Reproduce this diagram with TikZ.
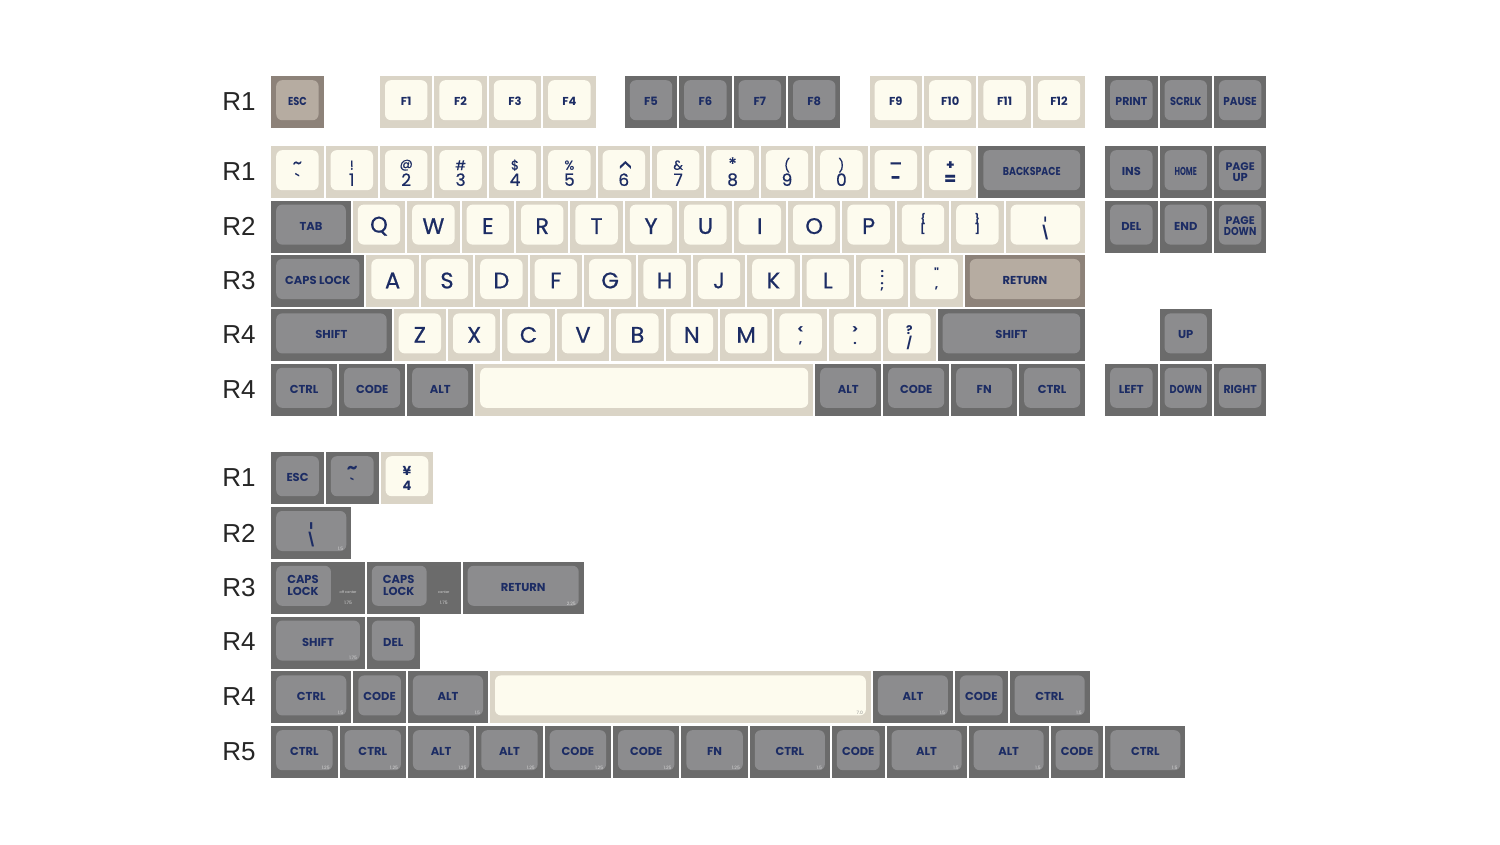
\documentclass[tikz,border=0pt]{standalone}
\usepackage{fontspec}
\usepackage{graphicx}
\newfontfamily\kf{Poppins}
\newfontfamily\kfl[FakeBold=0.6]{Poppins}
\newfontfamily\lf{Liberation Sans}
\usetikzlibrary{calc}
\definecolor{bOut}{HTML}{DAD4C6}
\definecolor{bIn}{HTML}{FDFBEE}
\definecolor{gOut}{HTML}{6B6B6B}
\definecolor{gIn}{HTML}{8C8C8E}
\definecolor{rOut}{HTML}{8D8279}
\definecolor{rIn}{HTML}{B6ACA1}
\definecolor{legend}{HTML}{1C2C64}
\definecolor{sizetxt}{HTML}{D6D6D6}
\tikzset{
  keycap/.style n args={3}{draw=none, fill=#1, rectangle, inner sep=0pt, anchor=north west,
    minimum height=52pt,
    path picture={\fill[#2, rounded corners=6pt]
      ([xshift=5pt,yshift=-4pt]path picture bounding box.north west) rectangle
      ([xshift=-#3,yshift=8pt]path picture bounding box.south east);}},
  beige/.style={keycap={bOut}{bIn}{5pt}},
  grey/.style={keycap={gOut}{gIn}{5pt}},
  brown/.style={keycap={rOut}{rIn}{5pt}},
  greyoff/.style={keycap={gOut}{gIn}{34pt}},
  lg/.style={text=legend, font=\kf\bfseries\fontsize{11.5}{11}\selectfont, inner sep=0pt, align=center},
  big/.style={text=legend, font=\kfl\fontsize{22.5}{23}\selectfont, inner sep=0pt},
  tl/.style={text=legend, font=\kfl\fontsize{13}{13}\selectfont, inner sep=0pt},
  bl/.style={text=legend, font=\kfl\fontsize{17}{17}\selectfont, inner sep=0pt},
  sz/.style={text=sizetxt, font=\kf\fontsize{4.5}{5}\selectfont, inner sep=0pt},
  rowlbl/.style={text=black!85, font=\lf\fontsize{26}{26}\selectfont, inner sep=0pt},
}
\def\U{54.4}
\def\tup{7}
\def\tdn{-7.5}
\newcommand\KS[6]{\node[#5, minimum width={#4*\U-2}] (#1) at ({271+#2*\U},#3) {};
  \node[lg] (#1t) at ([yshift=0.5pt]#1.center) {#6};}
\newcommand\KL[4]{\node[beige, minimum width={\U-2}] (#1) at ({271+#2*\U},#3) {};
  \node[big] (#1t) at ([yshift=0.5pt]#1.center) {#4};}
\newcommand\KD[7]{\node[#5, minimum width={#4*\U-2}] (#1) at ({271+#2*\U},#3) {};
  \node[tl] (#1a) at ([yshift=\tup pt]#1.center) {#6};
  \node[bl] (#1b) at ([yshift=\tdn pt]#1.center) {#7};}
\newcommand\SZ[2]{\node[sz, anchor=east] (#1s) at ([xshift=-8pt,yshift=10.5pt]#1.south east) {#2};}
\newcommand\sq[2]{\scalebox{#1}[1]{#2}}
\newcommand\pipe{\scalebox{1}[0.55]{|}}
\begin{document}
\begin{tikzpicture}[x=1pt,y=-1pt]
\fill[white] (0,0) rectangle (1500,845);
\useasboundingbox (0,0) rectangle (1500,845);
% row labels
\node[rowlbl] (la) at (239,102) {R1};
\node[rowlbl] (lb) at (239,172) {R1};
\node[rowlbl] (lc) at (239,226) {R2};
\node[rowlbl] (ld) at (239,281) {R3};
\node[rowlbl] (le) at (239,335) {R4};
\node[rowlbl] (lf) at (239,390) {R4};
\node[rowlbl] (lg1) at (239,478) {R1};
\node[rowlbl] (lg2) at (239,533) {R2};
\node[rowlbl] (lg3) at (239,588) {R3};
\node[rowlbl] (lg4) at (239,642) {R4};
\node[rowlbl] (lg5) at (239,697) {R4};
\node[rowlbl] (lg6) at (239,752) {R5};
% ---------- top section ----------
% F row
\KS{esc}{0}{76}{1}{brown}{\sq{0.85}{ESC}}
\KS{fa}{2}{76}{1}{beige}{F1}
\KS{fb}{3}{76}{1}{beige}{F2}
\KS{fc}{4}{76}{1}{beige}{F3}
\KS{fd}{5}{76}{1}{beige}{F4}
\KS{fe}{6.5}{76}{1}{grey}{F5}
\KS{ff}{7.5}{76}{1}{grey}{F6}
\KS{fg}{8.5}{76}{1}{grey}{F7}
\KS{fh}{9.5}{76}{1}{grey}{F8}
\KS{fi}{11}{76}{1}{beige}{F9}
\KS{fj}{12}{76}{1}{beige}{F10}
\KS{fk}{13}{76}{1}{beige}{F11}
\KS{fl}{14}{76}{1}{beige}{F12}
\KS{prt}{15.33}{76}{1}{grey}{\sq{0.95}{PRINT}}
\KS{scr}{16.33}{76}{1}{grey}{\sq{0.85}{SCRLK}}
\KS{pau}{17.33}{76}{1}{grey}{\sq{0.9}{PAUSE}}
% number row
\KD{na}{0}{146}{1}{beige}{\scalebox{1.4}{\textasciitilde}}{\textasciigrave}
\KD{nb}{1}{146}{1}{beige}{!}{1}
\KD{nc}{2}{146}{1}{beige}{@}{2}
\KD{nd}{3}{146}{1}{beige}{\#}{3}
\KD{ne}{4}{146}{1}{beige}{\$}{4}
\KD{nf}{5}{146}{1}{beige}{\%}{5}
\KD{ng}{6}{146}{1}{beige}{\scalebox{1.8}[1.6]{\rotatebox{-90}{<}}}{6}
\KD{nh}{7}{146}{1}{beige}{\&}{7}
\def\tup{8.5}
\KD{ni}{8}{146}{1}{beige}{\scalebox{1.3}{*}}{8}
\def\tup{7}
\KD{nj}{9}{146}{1}{beige}{(}{9}
\KD{nk}{10}{146}{1}{beige}{)}{0}
\KD{nl}{11}{146}{1}{beige}{\textbf{—}}{\textbf{-}}
\KD{nm}{12}{146}{1}{beige}{\textbf{+}}{\textbf{=}}
\KS{bks}{13}{146}{2}{grey}{\sq{0.82}{BACKSPACE}}
\KS{ins}{15.33}{146}{1}{grey}{INS}
\KS{hom}{16.33}{146}{1}{grey}{\sq{0.65}{HOME}}
\KS{pgu}{17.33}{146}{1}{grey}{\fontsize{11}{10}\selectfont PAGE\\UP}
% Q row
\KS{tab}{0}{200.4}{1.5}{grey}{TAB}
\KL{kq}{1.5}{200.4}{Q}
\KL{kw}{2.5}{200.4}{W}
\KL{ke}{3.5}{200.4}{E}
\KL{kr}{4.5}{200.4}{R}
\KL{kt}{5.5}{200.4}{T}
\KL{ky}{6.5}{200.4}{Y}
\KL{ku}{7.5}{200.4}{U}
\KL{ki}{8.5}{200.4}{I}
\KL{ko}{9.5}{200.4}{O}
\KL{kp}{10.5}{200.4}{P}
\tikzset{tl/.append style={font=\kf\bfseries\fontsize{10}{10}\selectfont},
         bl/.append style={font=\kf\bfseries\fontsize{10}{10}\selectfont}}
\def\tup{8}\def\tdn{-2}
\KD{lbr}{11.5}{200.4}{1}{beige}{\{}{[}
\KD{rbr}{12.5}{200.4}{1}{beige}{\}}{]}
\tikzset{bl/.append style={font=\kf\bfseries\fontsize{13}{13}\selectfont}}
\def\tup{7}\def\tdn{-5.5}
\KD{bsl}{13.5}{200.4}{1.5}{beige}{\pipe}{\textbackslash}
\KS{del}{15.33}{200.4}{1}{grey}{DEL}
\KS{end}{16.33}{200.4}{1}{grey}{END}
\KS{pgd}{17.33}{200.4}{1}{grey}{\fontsize{11}{10}\selectfont PAGE\\\sq{0.85}{DOWN}}
% A row
\KS{cap}{0}{254.8}{1.75}{grey}{CAPS LOCK}
\KL{ka}{1.75}{254.8}{A}
\KL{ks}{2.75}{254.8}{S}
\KL{kd}{3.75}{254.8}{D}
\KL{kf}{4.75}{254.8}{F}
\KL{kg}{5.75}{254.8}{G}
\KL{kh}{6.75}{254.8}{H}
\KL{kj}{7.75}{254.8}{J}
\KL{kk}{8.75}{254.8}{K}
\KL{kl}{9.75}{254.8}{L}
\tikzset{tl/.append style={font=\kf\bfseries\fontsize{12}{12}\selectfont},
         bl/.append style={font=\kf\bfseries\fontsize{12}{12}\selectfont}}
\def\tup{7}\def\tdn{-6}
\KD{scl}{10.75}{254.8}{1}{beige}{:}{;}
\def\tup{8.5}\def\tdn{-7}
\KD{quo}{11.75}{254.8}{1}{beige}{"}{,}
\KS{ret}{12.75}{254.8}{2.25}{brown}{RETURN}
% Z row
\KS{lsh}{0}{309.2}{2.25}{grey}{SHIFT}
\KL{kz}{2.25}{309.2}{Z}
\KL{kx}{3.25}{309.2}{X}
\KL{kc}{4.25}{309.2}{C}
\KL{kv}{5.25}{309.2}{V}
\KL{kb}{6.25}{309.2}{B}
\KL{kn}{7.25}{309.2}{N}
\KL{km}{8.25}{309.2}{M}
\def\tup{5}\def\tdn{-8}
\KD{lt}{9.25}{309.2}{1}{beige}{<}{,}
\KD{gt}{10.25}{309.2}{1}{beige}{>}{.}
\KD{qm}{11.25}{309.2}{1}{beige}{?}{/}
\KS{rsh}{12.25}{309.2}{2.75}{grey}{SHIFT}
\KS{up}{16.33}{309.2}{1}{grey}{UP}
% bottom row
\KS{lct}{0}{363.6}{1.25}{grey}{CTRL}
\KS{lcd}{1.25}{363.6}{1.25}{grey}{CODE}
\KS{lal}{2.5}{363.6}{1.25}{grey}{ALT}
\node[beige, minimum width={6.25*\U-2}] (spc) at ({271+3.75*\U},363.6) {};
\KS{ral}{10}{363.6}{1.25}{grey}{ALT}
\KS{rcd}{11.25}{363.6}{1.25}{grey}{CODE}
\KS{rfn}{12.5}{363.6}{1.25}{grey}{FN}
\KS{rct}{13.75}{363.6}{1.25}{grey}{CTRL}
\KS{lft}{15.33}{363.6}{1}{grey}{LEFT}
\KS{dwn}{16.33}{363.6}{1}{grey}{\sq{0.84}{DOWN}}
\KS{rgt}{17.33}{363.6}{1}{grey}{\sq{0.95}{RIGHT}}
% ---------- bottom section ----------
\def\U{54.7}
\KS{xesc}{0}{452}{1}{grey}{ESC}
\tikzset{tl/.append style={font=\kf\bfseries\fontsize{13}{13}\selectfont},
         bl/.append style={font=\kf\bfseries\fontsize{13}{13}\selectfont}}
\def\tup{8}\def\tdn{-5}
\KD{xtil}{1}{452}{1}{grey}{\scalebox{1.3}{\textasciitilde}}{\textasciigrave}
\def\tup{7}\def\tdn{-8}
\KD{xyen}{2}{452}{1}{beige}{¥}{4}
\def\tup{6.5}\def\tdn{-7}
\KD{xbsl}{0}{506.8}{1.5}{grey}{\pipe}{\textbackslash}
\SZ{xbsl}{1.5}
% caps lock variants
\node[greyoff, minimum width={1.75*\U-2}] (xcpa) at (271,561.6) {};
\node[lg, font=\kf\bfseries\fontsize{11.5}{12}\selectfont] (xcpat) at ($(xcpa.north west)+(32,24)$) {CAPS\\LOCK};
\node[sz, font=\kf\fontsize{3.5}{4}\selectfont] (xcpab) at ($(xcpa.north east)+(-17,31)$) {off center};
\node[sz] (xcpac) at ($(xcpa.north east)+(-17,41)$) {1.75};
\node[greyoff, minimum width={1.75*\U-2}] (xcpb) at ({271+1.75*\U},561.6) {};
\node[lg, font=\kf\bfseries\fontsize{11.5}{12}\selectfont] (xcpbt) at ($(xcpb.north west)+(32,24)$) {CAPS\\LOCK};
\node[sz, font=\kf\fontsize{3.5}{4}\selectfont] (xcpbb) at ($(xcpb.north east)+(-17,31)$) {center};
\node[sz] (xcpbc) at ($(xcpb.north east)+(-17,41)$) {1.75};
\KS{xret}{3.5}{561.6}{2.25}{grey}{RETURN}
\SZ{xret}{2.25}
\KS{xsh}{0}{616.4}{1.75}{grey}{SHIFT}
\SZ{xsh}{1.75}
\KS{xdel}{1.75}{616.4}{1}{grey}{DEL}
% R4 bottom row
\KS{yct}{0}{671.2}{1.5}{grey}{CTRL}
\SZ{yct}{1.5}
\KS{ycd}{1.5}{671.2}{1}{grey}{CODE}
\KS{yal}{2.5}{671.2}{1.5}{grey}{ALT}
\SZ{yal}{1.5}
\node[beige, minimum width={7*\U-2}] (yspc) at ({271+4*\U},671.2) {};
\node[sz, text=black!45, anchor=east] (yspcs) at ([xshift=-8pt,yshift=10.5pt]yspc.south east) {7.0};
\KS{yal2}{11}{671.2}{1.5}{grey}{ALT}
\SZ{yal2}{1.5}
\KS{ycd2}{12.5}{671.2}{1}{grey}{CODE}
\KS{yct2}{13.5}{671.2}{1.5}{grey}{CTRL}
\SZ{yct2}{1.5}
% R5
\KS{za}{0}{726}{1.25}{grey}{CTRL}\SZ{za}{1.25}
\KS{zb}{1.25}{726}{1.25}{grey}{CTRL}\SZ{zb}{1.25}
\KS{zc}{2.5}{726}{1.25}{grey}{ALT}\SZ{zc}{1.25}
\KS{zd}{3.75}{726}{1.25}{grey}{ALT}\SZ{zd}{1.25}
\KS{ze}{5}{726}{1.25}{grey}{CODE}\SZ{ze}{1.25}
\KS{zf}{6.25}{726}{1.25}{grey}{CODE}\SZ{zf}{1.25}
\KS{zg}{7.5}{726}{1.25}{grey}{FN}\SZ{zg}{1.25}
\KS{zh}{8.75}{726}{1.5}{grey}{CTRL}\SZ{zh}{1.5}
\KS{zi}{10.25}{726}{1}{grey}{CODE}
\KS{zj}{11.25}{726}{1.5}{grey}{ALT}\SZ{zj}{1.5}
\KS{zk}{12.75}{726}{1.5}{grey}{ALT}\SZ{zk}{1.5}
\KS{zl}{14.25}{726}{1}{grey}{CODE}
\KS{zm}{15.25}{726}{1.5}{grey}{CTRL}\SZ{zm}{1.5}
\end{tikzpicture}
\end{document}
